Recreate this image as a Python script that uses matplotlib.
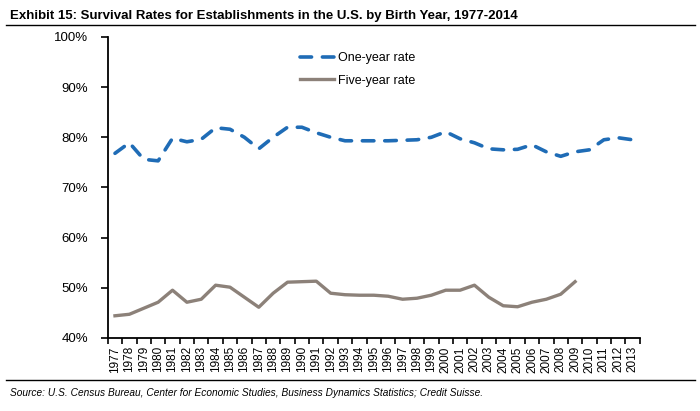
import numpy as np
import matplotlib
matplotlib.use('Agg')
import matplotlib.pyplot as plt
from matplotlib.lines import Line2D

plt.rcParams['font.family'] = ['Liberation Sans', 'DejaVu Sans']

years = np.arange(1977, 2014)
one_year = [76.8, 78.9, 75.6, 75.3, 79.8, 79.1, 79.6, 81.9, 81.6, 80.0,
            77.7, 80.0, 82.0, 82.0, 80.9, 80.0, 79.3, 79.3, 79.3, 79.3,
            79.4, 79.5, 80.0, 81.1, 79.7, 78.9, 77.7, 77.5, 77.6, 78.5,
            77.1, 76.2, 77.1, 77.5, 79.5, 79.9, 79.5]
five_year_years = np.arange(1977, 2010)
five_year = [44.4, 44.7, 45.9, 47.1, 49.5, 47.1, 47.7, 50.5, 50.1, 48.1,
             46.1, 48.9, 51.1, 51.2, 51.3, 48.9, 48.6, 48.5, 48.5, 48.3,
             47.7, 47.9, 48.5, 49.5, 49.5, 50.5, 48.1, 46.4, 46.2, 47.1,
             47.7, 48.7, 51.2]
yticks = [40, 50, 60, 70, 80, 90, 100]

blue = '#1F6CB6'
grey = '#8C8179'

fig = plt.figure(figsize=(7, 4.11), dpi=100)
ax = fig.add_axes([0.154, 0.178, 0.76, 0.732])

ax.plot(years, one_year, color=blue, lw=2.6, dashes=(3.2, 3.0),
        dash_capstyle='round', label='One-year rate')
ax.plot(five_year_years, five_year, color=grey, lw=2.4, label='Five-year rate')

ax.set_xlim(1976.5, 2013.5)
ax.set_ylim(40, 100)
ax.set_yticks(yticks)
ax.set_yticklabels([f'{v}%' for v in yticks], fontsize=9.5)
ax.set_xticks(years)
ax.set_xticklabels([str(y) for y in years], rotation=90, fontsize=8.5)
ax.set_xticks(np.arange(1976.5, 2014, 1), minor=True)
ax.tick_params(axis='x', which='major', length=0, pad=6)
ax.tick_params(axis='x', which='minor', length=4, width=1.2, direction='out')
ax.tick_params(axis='y', length=5, width=1.2, direction='out', pad=9)
for s in ['top', 'right']:
    ax.spines[s].set_visible(False)
for s in ['left', 'bottom']:
    ax.spines[s].set_linewidth(1.3)

ax.legend(loc='upper left', bbox_to_anchor=(0.352, 0.967), frameon=False,
          fontsize=9, handlelength=2.75, handletextpad=0.25, labelspacing=0.85,
          borderaxespad=0)

fig.text(0.014, 0.96, 'Exhibit 15: Survival Rates for Establishments in the U.S. by Birth Year, 1977-2014',
         fontsize=9.5, fontweight='bold', va='center')
fig.add_artist(Line2D([0.008, 0.993], [0.939, 0.939], color='black', lw=1.0))
fig.add_artist(Line2D([0.008, 0.993], [0.075, 0.075], color='black', lw=1.0))
fig.text(0.014, 0.043, 'Source: U.S. Census Bureau, Center for Economic Studies, Business Dynamics Statistics; Credit Suisse.',
         fontsize=7.3, style='italic', va='center')

fig.savefig('out.png', dpi=100)
